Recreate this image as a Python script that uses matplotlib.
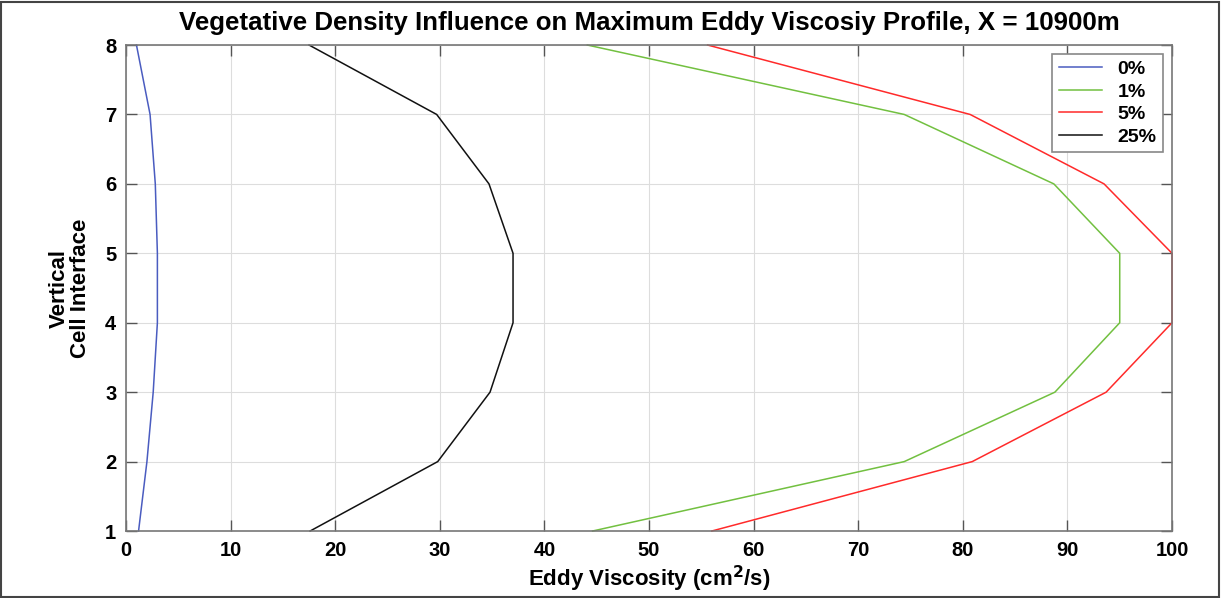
import matplotlib
matplotlib.use('Agg')
import matplotlib.pyplot as plt
from matplotlib.patches import Rectangle

plt.rcParams['font.family'] = ['Liberation Sans', 'DejaVu Sans']

# vertical cell interfaces
levels = [1, 2, 3, 4, 5, 6, 7, 8]

# eddy viscosity (cm^2/s) per vegetative density
visc_0 = [1.2, 2.0, 2.6, 3.0, 3.0, 2.8, 2.3, 1.0]
visc_1 = [44.6, 74.4, 88.8, 95.0, 95.0, 88.7, 74.4, 44.1]
visc_5 = [56.0, 80.9, 93.7, 100.0, 100.0, 93.5, 80.7, 55.6]
visc_25 = [17.6, 29.8, 34.8, 37.0, 37.0, 34.7, 29.7, 17.5]

labels = ['0%', '1%', '5%', '25%']
colors = ['#4a5cc0', '#72c040', '#ff2a2a', '#111111']

fig = plt.figure(figsize=(12.21, 5.98), dpi=100)
ax = fig.add_axes([0.1032, 0.112, 0.8567, 0.8127])

for vals, lab, col in zip([visc_0, visc_1, visc_5, visc_25], labels, colors):
    ax.plot(vals, levels, color=col, linewidth=1.1, label=lab, clip_on=False)

ax.set_xlim(0, 100)
ax.set_ylim(1, 8)
ax.set_xticks(range(0, 101, 10))
ax.set_yticks(levels)
ax.grid(True, color='#dddddd', linewidth=0.8)
ax.set_axisbelow(True)
for sp in ax.spines.values():
    sp.set_color('#777777')
    sp.set_linewidth(1.2)
ax.tick_params(direction='in', length=8, width=1.0, color='#555555',
               top=True, right=True, labelsize=14.5, pad=7)
for t in ax.get_xticklabels() + ax.get_yticklabels():
    t.set_fontweight('bold')

ax.set_title('Vegetative Density Influence on Maximum Eddy Viscosiy Profile, X = 10900m',
             fontsize=18.6, fontweight='bold', pad=11)
ax.set_xlabel('Eddy Viscosity (cm$^\\mathbf{2}$/s)', fontsize=16, fontweight='bold', labelpad=3)
ax.set_ylabel('Vertical\nCell Interface', fontsize=16, fontweight='bold', labelpad=10,
              linespacing=1.05)

leg = ax.legend(loc='upper right', prop={'weight': 'bold', 'size': 14},
                fancybox=False, edgecolor='#888888', framealpha=1.0,
                handlelength=2.2, handletextpad=0.8, borderpad=0.35, labelspacing=0.25,
                borderaxespad=0.45)
leg.get_frame().set_linewidth(1.2)

fig.patches.append(Rectangle((0.001, 0.002), 0.997, 0.995, transform=fig.transFigure,
                             fill=False, edgecolor='#444444', linewidth=1.5))

fig.savefig('out.png', dpi=100)
